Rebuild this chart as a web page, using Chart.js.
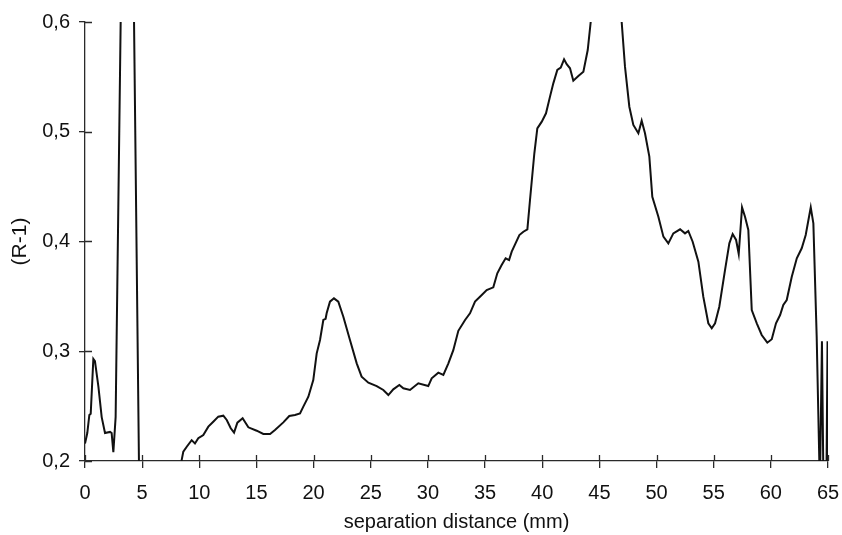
<!DOCTYPE html>
<html>
<head>
<meta charset="utf-8">
<script src="https://cdn.jsdelivr.net/npm/chart.js@4/dist/chart.umd.min.js"></script>
<style>
  html, body { margin: 0; padding: 0; background: #fff; }
  #wrap { width: 842px; height: 535px; }
</style>
</head>
<body>
<div id="wrap"><canvas id="chart" width="842" height="535"></canvas></div>
<script>
// --- data (mm, R-1) ---
// null = gap where the curve sits below the axis
const distance = [
  0, 0.2, 0.38, 0.5, 0.73, 0.87, 1.17, 1.46, 1.75, 2.19, 2.33, 2.48, 2.68,
  3.12, 3.7, 4.29, 4.72, 4.8, 6.5,
  8.4, 8.46, 8.6, 8.9, 9.33, 9.62, 9.91, 10.35, 10.79, 11.22, 11.66, 12.1, 12.4,
  12.75, 13.04, 13.33, 13.79, 14.29, 15.02, 15.6, 16.19, 16.62, 17.35, 17.87,
  18.37, 18.81, 19.1, 19.54, 19.97, 20.27, 20.56, 20.85, 21.05, 21.14, 21.43,
  21.78, 22.16, 22.6, 23.18, 23.77, 24.2, 24.79, 25.52, 26.1, 26.54, 26.97,
  27.5, 27.85, 28.43, 29.16, 30.03, 30.33, 30.91, 31.35, 31.79, 32.22, 32.66,
  33.25, 33.68, 34.12, 34.71, 35.14, 35.72, 36.07, 36.45, 36.8, 37.1, 37.33,
  38.0, 38.35, 38.7, 38.93, 39.31, 39.57, 39.96, 40.33, 40.68, 40.97, 41.32,
  41.62, 41.91, 42.14, 42.43, 42.72, 43.16, 43.6, 43.98, 44.24,
  45.6, 46.95, 47.24, 47.62, 47.97, 48.41, 48.7, 48.99, 49.37, 49.63, 50.16,
  50.6, 51.03, 51.47, 52.06, 52.49, 52.78, 53.16, 53.66, 54.09, 54.53, 54.83,
  55.12, 55.49, 55.99, 56.37, 56.66, 56.96, 57.19, 57.48, 57.74, 58.03, 58.33,
  58.77, 59.2, 59.69, 60.08, 60.45, 60.81, 61.09, 61.39, 61.83, 62.27, 62.7,
  63.05, 63.49, 63.72, 64.01, 64.24, 64.3, 64.47, 64.6, 64.86, 64.96, 65.05
];
const ratio = [
  0.216, 0.2255, 0.242, 0.243, 0.293, 0.291, 0.268, 0.240, 0.2255, 0.2265, 0.2255, 0.208, 0.240,
  0.6, 0.9, 0.6, 0.2, 0.19, null,
  0.195, 0.201, 0.2085, 0.213, 0.219, 0.216, 0.2207, 0.2237, 0.2313, 0.2358, 0.2404, 0.2413, 0.2374,
  0.2298, 0.2258, 0.2349, 0.2389, 0.2307, 0.2276, 0.2246, 0.2246, 0.2282, 0.2352, 0.241,
  0.2419, 0.2434, 0.2495, 0.2586, 0.2738, 0.2981, 0.3103, 0.3285, 0.3296, 0.3346, 0.3452,
  0.3482, 0.3452, 0.3315, 0.3103, 0.289, 0.2768, 0.2713, 0.2683, 0.2647, 0.2601, 0.2653,
  0.2692, 0.2662, 0.2647, 0.2708, 0.2683, 0.2753, 0.2805, 0.2784, 0.289, 0.301, 0.3186,
  0.3285, 0.3346, 0.3452, 0.3513, 0.3558, 0.3582, 0.371, 0.3786, 0.3847, 0.3831, 0.3907,
  0.4059, 0.4089, 0.4111, 0.4378, 0.4804, 0.503, 0.5092, 0.5168, 0.532, 0.5441, 0.5563,
  0.5584, 0.566, 0.5615, 0.5578, 0.5465, 0.5508, 0.5547, 0.5745, 0.6,
  0.9, 0.6, 0.5593, 0.5228, 0.5062, 0.4986, 0.51, 0.4986, 0.4773, 0.4408, 0.4226,
  0.4044, 0.3983, 0.4074, 0.4111, 0.4074, 0.4096, 0.3998, 0.3816, 0.3497, 0.3255, 0.3209,
  0.3255, 0.3406, 0.374, 0.3983, 0.4068, 0.4014, 0.3886, 0.4311, 0.4226, 0.4105, 0.3376,
  0.3255, 0.3148, 0.3078, 0.3109, 0.3255, 0.333, 0.3421, 0.3467, 0.3679, 0.3847, 0.3938,
  0.4059, 0.4311, 0.4165, 0.3133, 0.2, 0.18, 0.309, 0.18, 0.18, 0.309, 0.18
];
const xTickValues = [0, 5, 10, 15, 20, 25, 30, 35, 40, 45, 50, 55, 60, 65];
const yTickLabels = ['0,2', '0,3', '0,4', '0,5', '0,6'];

const axisColor = '#2a2a2a';
const fontFamily = "'Liberation Sans', Arial, sans-serif";

// ticks in the picture cross the axis: draw the inner half here
const innerTicks = {
  id: 'innerTicks',
  afterDraw(chart) {
    const { ctx, chartArea, scales: { x, y } } = chart;
    ctx.save();
    ctx.strokeStyle = axisColor;
    ctx.lineWidth = 1.3;
    ctx.beginPath();
    x.ticks.forEach(t => {
      const px = Math.round(x.getPixelForValue(t.value)) + 0.5;
      ctx.moveTo(px, chartArea.bottom);
      ctx.lineTo(px, chartArea.bottom - 6);
    });
    y.ticks.forEach(t => {
      const py = Math.round(y.getPixelForValue(t.value)) + 0.5;
      ctx.moveTo(chartArea.left, py);
      ctx.lineTo(chartArea.left + 7, py);
    });
    ctx.stroke();
    ctx.restore();
  }
};

const points = distance.map((d, i) => ({ x: d, y: ratio[i] }));

new Chart(document.getElementById('chart'), {
  type: 'line',
  data: {
    datasets: [{
      data: points,
      borderColor: '#111',
      borderWidth: 2,
      pointRadius: 0,
      tension: 0,
      spanGaps: false,
      fill: false
    }]
  },
  options: {
    responsive: false,
    animation: false,
    layout: { padding: { top: 22, right: 14, left: 0, bottom: 0 } },
    plugins: { legend: { display: false }, tooltip: { enabled: false } },
    scales: {
      x: {
        type: 'linear',
        min: 0, max: 65,
        afterBuildTicks: s => { s.ticks = xTickValues.map(v => ({ value: v })); },
        afterFit: s => { s.height = 74; s.paddingLeft = 0; s.paddingRight = 0; },
        grid: { drawOnChartArea: false, drawTicks: true, tickLength: 7, color: axisColor, lineWidth: 1.3 },
        border: { display: true, color: axisColor, width: 1.3 },
        ticks: { color: '#111', font: { family: fontFamily, size: 20 }, padding: 13, maxRotation: 0 },
        title: {
          display: true, text: 'separation distance (mm)', color: '#111',
          font: { family: fontFamily, size: 20 }, padding: { top: 0, bottom: 1 }
        }
      },
      y: {
        min: 0.2, max: 0.6,
        afterBuildTicks: s => { s.ticks = yTickLabels.map((_, i) => ({ value: 0.2 + i * 0.1 })); },
        afterFit: s => { s.width = 85; s.paddingTop = 0; s.paddingBottom = 0; },
        grid: { drawOnChartArea: false, drawTicks: true, tickLength: 6, color: axisColor, lineWidth: 1.3 },
        border: { display: true, color: axisColor, width: 1.3 },
        ticks: {
          color: '#111', font: { family: fontFamily, size: 20 }, padding: 9,
          callback: (v, i) => yTickLabels[i]
        },
        title: {
          display: true, text: '(R-1)', color: '#111',
          font: { family: fontFamily, size: 21 }, padding: { top: 8, bottom: 0 }
        }
      }
    }
  },
  plugins: [innerTicks]
});
</script>
</body>
</html>
